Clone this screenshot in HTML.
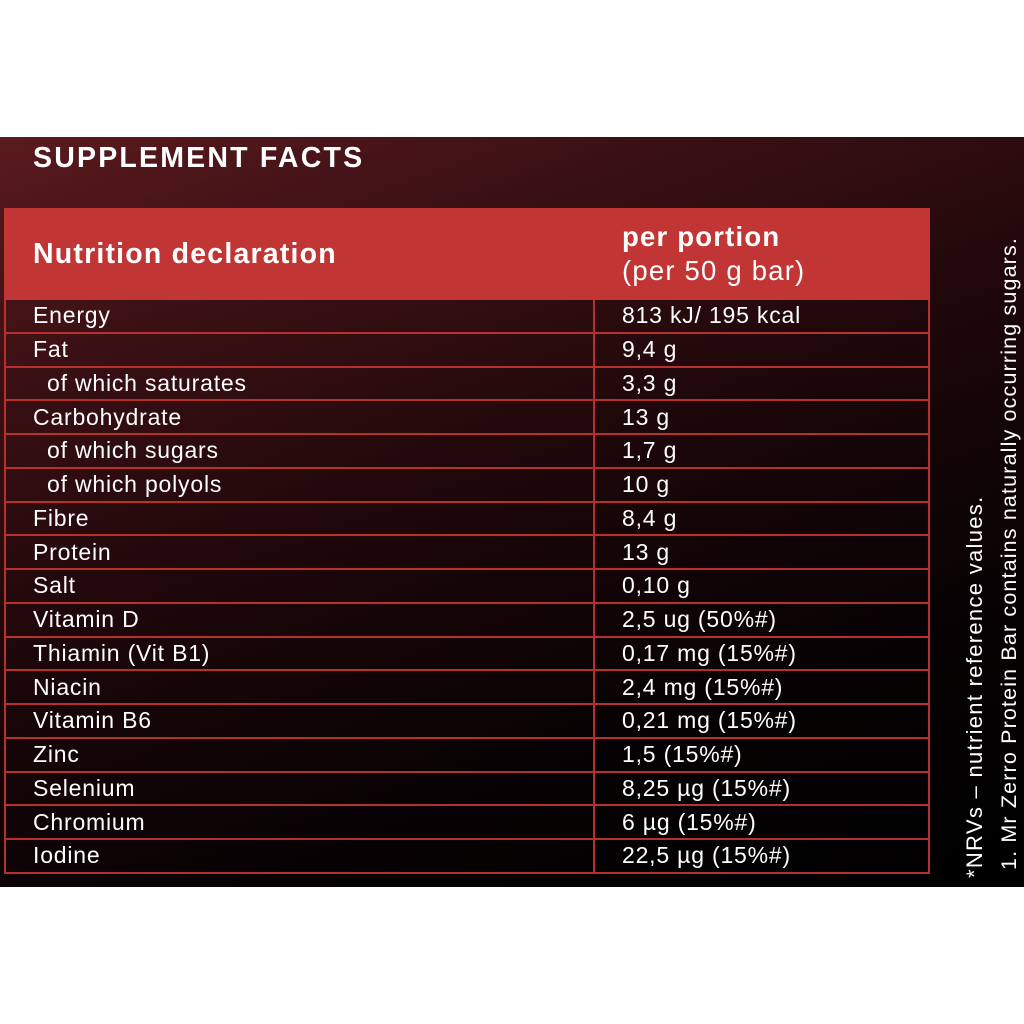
<!DOCTYPE html>
<html><head><style>
body{margin:0;width:1024px;height:1024px;background:#fff;position:relative;overflow:hidden;font-family:"Liberation Sans",sans-serif;}
#panel{position:absolute;left:0;top:137px;width:1024px;height:750px;background:linear-gradient(160deg,#5a1a1e 0%,#3a1014 22%,#1a0608 50%,#060203 75%,#000 100%);}
#title{position:absolute;left:33px;top:142px;color:#fff;font-weight:bold;font-size:28.5px;letter-spacing:2.2px;}
table{position:absolute;left:4px;top:208px;width:926px;border-collapse:collapse;color:#fff;}
td{border:2px solid #b8302e;font-size:23px;padding:0 0 0 27px;letter-spacing:0.8px;}
tr{height:33.75px;}
tr.h{height:90px;}
tr.h td{background:#c23535;font-weight:bold;font-size:28.5px;border-color:#c23535;letter-spacing:1.2px;}
tr.h td.v{font-weight:normal;line-height:34px;padding-top:0;font-size:27.5px;}
td.i{padding-left:41px;}
.rot{position:absolute;color:#fff;white-space:nowrap;transform:rotate(-90deg);transform-origin:left top;}
</style></head><body>
<div id="panel"></div>
<div id="title">SUPPLEMENT FACTS</div>
<table>
<tr class="h"><td style="width:560px">Nutrition declaration</td><td class="v"><b>per portion</b><br>(per 50 g bar)</td></tr>
<tr><td>Energy</td><td class="v">813 kJ/ 195 kcal</td></tr>
<tr><td>Fat</td><td class="v">9,4 g</td></tr>
<tr><td class="i">of which saturates</td><td class="v">3,3 g</td></tr>
<tr><td>Carbohydrate</td><td class="v">13 g</td></tr>
<tr><td class="i">of which sugars</td><td class="v">1,7 g</td></tr>
<tr><td class="i">of which polyols</td><td class="v">10 g</td></tr>
<tr><td>Fibre</td><td class="v">8,4 g</td></tr>
<tr><td>Protein</td><td class="v">13 g</td></tr>
<tr><td>Salt</td><td class="v">0,10 g</td></tr>
<tr><td>Vitamin D</td><td class="v">2,5 ug (50%#)</td></tr>
<tr><td>Thiamin (Vit B1)</td><td class="v">0,17 mg (15%#)</td></tr>
<tr><td>Niacin</td><td class="v">2,4 mg (15%#)</td></tr>
<tr><td>Vitamin B6</td><td class="v">0,21 mg (15%#)</td></tr>
<tr><td>Zinc</td><td class="v">1,5 (15%#)</td></tr>
<tr><td>Selenium</td><td class="v">8,25 µg (15%#)</td></tr>
<tr><td>Chromium</td><td class="v">6 µg (15%#)</td></tr>
<tr><td>Iodine</td><td class="v">22,5 µg (15%#)</td></tr>
</table>
<div class="rot" style="left:962px;top:878px;font-size:22px;letter-spacing:1.3px;">*NRVs – nutrient reference values.</div>
<div class="rot" style="left:997px;top:870px;font-size:21.5px;letter-spacing:1.15px;">1. Mr Zerro Protein Bar contains naturally occurring sugars.</div>
</body></html>
